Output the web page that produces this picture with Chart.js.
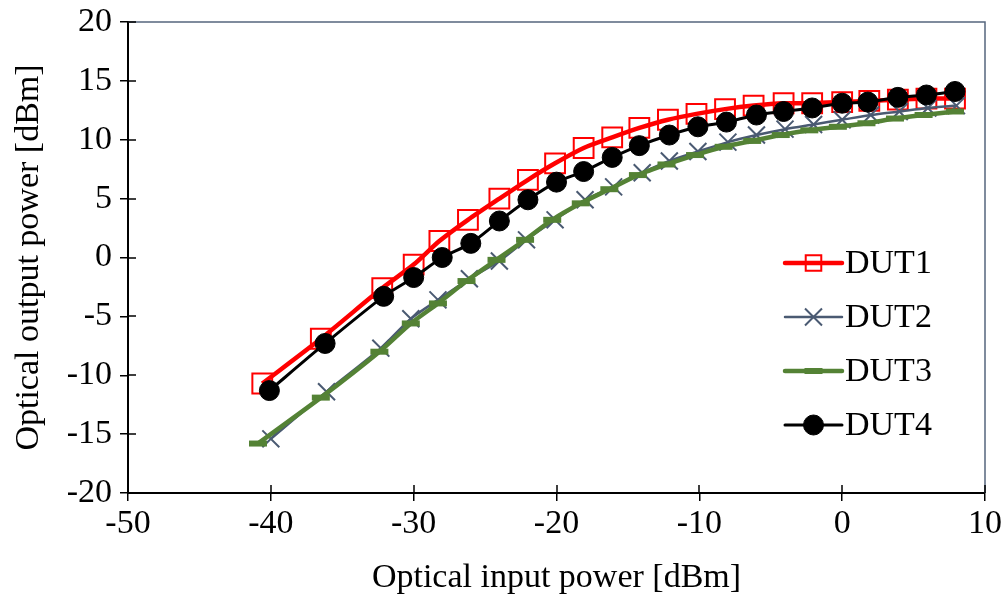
<!DOCTYPE html>
<html>
<head>
<meta charset="utf-8">
<script src="https://cdn.jsdelivr.net/npm/chart.js@4/dist/chart.umd.min.js"></script>
<style>
  html, body { margin: 0; padding: 0; background: #ffffff; }
  #wrap { width: 1001px; height: 598px; position: relative; }
</style>
</head>
<body>
<div id="wrap"><canvas id="c" width="1001" height="598"></canvas></div>
<script>
// ---- Data ----
const seriesNames = ["DUT1", "DUT2", "DUT3", "DUT4"];

const dut1X = [-40.6, -36.5, -32.2, -30.0, -28.2, -26.2, -24.0, -22.0, -20.1, -18.1, -16.1, -14.2, -12.2, -10.2, -8.2, -6.2, -4.1, -2.1, 0.0, 1.9, 3.9, 5.9, 7.9];
const dut1Y = [-10.7, -6.9, -2.6, -0.6, 1.4, 3.2, 5.0, 6.6, 8.0, 9.3, 10.2, 11.0, 11.7, 12.2, 12.6, 12.9, 13.1, 13.1, 13.2, 13.3, 13.4, 13.5, 13.5];

const dut2X = [-40.0, -36.1, -32.3, -30.2, -28.3, -26.1, -24.0, -22.1, -20.1, -18.0, -16.0, -14.0, -12.1, -10.1, -8.0, -6.0, -4.0, -2.0, 0.0, 2.0, 4.0, 6.0, 8.0];
const dut2Y = [-15.4, -11.4, -7.7, -5.2, -3.6, -1.8, -0.3, 1.5, 3.2, 4.9, 6.0, 7.2, 8.2, 9.0, 9.8, 10.4, 10.9, 11.3, 11.7, 12.1, 12.4, 12.7, 12.9];

const dut3X = [-40.9, -36.5, -32.4, -30.2, -28.3, -26.3, -24.2, -22.2, -20.3, -18.3, -16.3, -14.3, -12.3, -10.3, -8.3, -6.3, -4.3, -2.3, -0.3, 1.7, 3.7, 5.7, 7.9];
const dut3Y = [-15.8, -11.9, -8.0, -5.6, -3.9, -2.0, -0.2, 1.5, 3.2, 4.6, 5.8, 7.0, 7.9, 8.7, 9.4, 9.9, 10.4, 10.8, 11.1, 11.4, 11.8, 12.1, 12.4];

const dut4X = [-40.1, -36.2, -32.1, -30.0, -28.0, -26.0, -24.0, -22.0, -20.0, -18.1, -16.1, -14.2, -12.1, -10.1, -8.1, -6.0, -4.1, -2.1, 0.0, 1.8, 3.9, 5.9, 7.9];
const dut4Y = [-11.3, -7.3, -3.3, -1.7, 0.0, 1.2, 3.1, 4.9, 6.4, 7.3, 8.5, 9.5, 10.4, 11.1, 11.5, 12.1, 12.4, 12.7, 13.1, 13.2, 13.6, 13.8, 14.1];

const xTitle = "Optical input power [dBm]";
const yTitle = "Optical output power [dBm]";

// ---- Build ----
const pts = (xs, ys) => xs.map((x, i) => ({ x: x, y: ys[i] }));
const FONT = "'Liberation Serif', 'Times New Roman', serif";

const datasets = [
  { label: seriesNames[0], data: pts(dut1X, dut1Y), borderColor: "#FF0000", borderWidth: 4.5,
    pointStyle: "rect", pointRadius: 14, pointBorderWidth: 2, pointBorderColor: "#FF0000",
    pointBackgroundColor: "rgba(255,255,255,0)", order: 4, legendR: 11 },
  { label: seriesNames[1], data: pts(dut2X, dut2Y), borderColor: "#4A5A72", borderWidth: 2.5,
    pointStyle: "crossRot", pointRadius: 12, pointBorderWidth: 2, pointBorderColor: "#4A5A72",
    pointBackgroundColor: "#4A5A72", order: 3, legendR: 12 },
  { label: seriesNames[2], data: pts(dut3X, dut3Y), borderColor: "#548235", borderWidth: 4.5,
    pointStyle: "line", pointRadius: 9, pointBorderWidth: 6, pointBorderColor: "#548235",
    pointBackgroundColor: "#548235", order: 2, legendR: 9 },
  { label: seriesNames[3], data: pts(dut4X, dut4Y), borderColor: "#000000", borderWidth: 3,
    pointStyle: "circle", pointRadius: 10, pointBorderWidth: 1, pointBorderColor: "#000000",
    pointBackgroundColor: "#000000", order: 1, legendR: 10 }
];
datasets.forEach(d => { d.showLine = true; d.fill = false; d.tension = 0.25; d.pointHoverRadius = d.pointRadius; });

// Inner half of tick marks, plot border (top/right), and legend
const decor = {
  id: "decor",
  afterDatasetsDraw(chart) {
    const ctx = chart.ctx, a = chart.chartArea;
    const xs = chart.scales.x, ys = chart.scales.y;
    ctx.save();
    ctx.strokeStyle = "#56667E"; ctx.lineWidth = 1.5;
    ctx.beginPath();
    ctx.moveTo(a.left, a.top); ctx.lineTo(a.right, a.top); ctx.lineTo(a.right, a.bottom);
    ctx.stroke();
    ctx.strokeStyle = "#000"; ctx.lineWidth = 1.5;
    ctx.beginPath();
    ys.ticks.forEach(t => { const p = Math.round(ys.getPixelForValue(t.value)); ctx.moveTo(a.left, p); ctx.lineTo(a.left + 8, p); });
    xs.ticks.forEach(t => { const p = Math.round(xs.getPixelForValue(t.value)); ctx.moveTo(p, a.bottom); ctx.lineTo(p, a.bottom - 8); });
    ctx.stroke();
    // legend
    const lx0 = 785, lx1 = 842, rowY = [263, 317, 371, 425];
    chart.data.datasets.forEach((d, i) => {
      const y = rowY[i];
      ctx.strokeStyle = d.borderColor; ctx.lineWidth = d.borderWidth; ctx.lineCap = "round";
      ctx.beginPath(); ctx.moveTo(lx0, y); ctx.lineTo(lx1, y); ctx.stroke();
      ctx.lineCap = "butt";
      ctx.fillStyle = d.pointBackgroundColor; ctx.strokeStyle = d.pointBorderColor; ctx.lineWidth = d.pointBorderWidth;
      Chart.helpers.drawPoint(ctx, { pointStyle: d.pointStyle, rotation: 0, radius: d.legendR, borderWidth: d.pointBorderWidth }, (lx0 + lx1) / 2, y);
      ctx.fillStyle = "#000"; ctx.textAlign = "left"; ctx.textBaseline = "middle";
      ctx.font = "34px " + FONT;
      ctx.fillText(d.label, lx1 + 3, y + 1);
    });
    ctx.restore();
  }
};

new Chart(document.getElementById("c"), {
  type: "scatter",
  data: { datasets: datasets },
  options: {
    responsive: false,
    animation: false,
    layout: { padding: { top: 22, right: 14, left: 0, bottom: 0 } },
    plugins: { legend: { display: false }, tooltip: { enabled: false } },
    scales: {
      x: {
        type: "linear", min: -50, max: 10,
        ticks: { stepSize: 10, color: "#000", font: { family: FONT, size: 34 }, padding: 3, maxRotation: 0 },
        grid: { display: true, drawOnChartArea: false, drawTicks: true, tickLength: 8, color: "#000", lineWidth: 1.5 },
        border: { display: true, color: "#000", width: 2 },
        title: { display: true, text: xTitle, color: "#000", font: { family: FONT, size: 34 }, padding: { top: 0, bottom: 0 } },
        afterFit(s) { s.height = 105; s.paddingLeft = 0; s.paddingRight = 0; }
      },
      y: {
        type: "linear", min: -20, max: 20,
        ticks: { stepSize: 5, color: "#000", font: { family: FONT, size: 34 }, padding: 8 },
        grid: { display: true, drawOnChartArea: false, drawTicks: true, tickLength: 8, color: "#000", lineWidth: 1.5 },
        border: { display: true, color: "#000", width: 2 },
        title: { display: true, text: yTitle, color: "#000", font: { family: FONT, size: 34 }, padding: { top: 9, bottom: 0 } },
        afterFit(s) { s.width = 128; s.paddingTop = 0; s.paddingBottom = 0; }
      }
    }
  },
  plugins: [decor]
});
</script>
</body>
</html>
